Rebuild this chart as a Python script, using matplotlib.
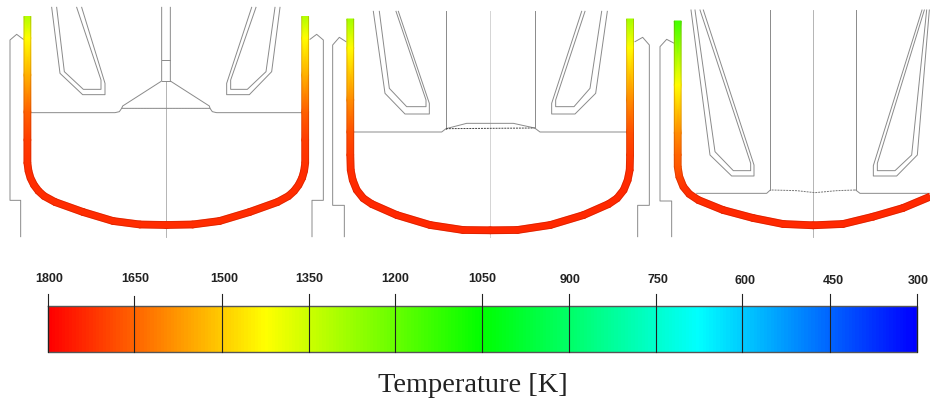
import numpy as np
import matplotlib
matplotlib.use("Agg")
import matplotlib.pyplot as plt
from matplotlib.colors import LinearSegmentedColormap, Normalize

# ---------- colour bar data ----------
tick_labels = ["1800", "1650", "1500", "1350", "1200", "1050", "900", "750", "600", "450", "300"]
tick_values = [1800, 1650, 1500, 1350, 1200, 1050, 900, 750, 600, 450, 300]
tick_px = [47.7, 134.3, 222, 308.7, 395, 481.7, 569.3, 656, 742.3, 830, 916.7]
tick_top = [293.5, 296, 293.5, 293.5, 293.5, 293.5, 293.5, 293.5, 293.5, 293.5, 293.5]
label_x = [48.7, 135, 224, 309.5, 395, 482.3, 570, 657.5, 745, 833, 918]
label_y = [279, 279, 279, 279, 279, 279, 280, 280, 281, 281, 281]

# ---------- wall centre lines (pixel positions) and temperatures ----------
w1_x = [27.4, 27.4, 27.4, 27.4, 27.4, 27.4, 28.5, 30.5, 34, 38.5, 44, 55, 83, 113, 140, 166.3]
w1_y = [16.5, 38, 75, 112, 140, 163, 171, 178, 185, 191, 196, 202, 212, 221, 224.5, 225]
w1_t = [1310, 1425, 1541, 1659, 1710, 1725, 1730, 1735, 1735, 1735, 1735, 1735, 1735, 1735, 1735, 1735]
w1_axis = 166.3

w2_x = [350.3, 350.3, 350.3, 350.3, 350.3, 350.7, 352.7, 356.7, 363.3, 371.7, 396.7, 430, 463, 490.2]
w2_y = [19, 48, 100, 132, 155, 170, 180, 190, 198.3, 204, 215, 225, 230, 230.3]
w2_t = [1290, 1425, 1590, 1680, 1715, 1730, 1735, 1740, 1740, 1740, 1740, 1740, 1740, 1740]
w2_axis = 490.2

w3_x = [677.7, 677.7, 677.7, 677.7, 677.7, 679.3, 683.3, 689.3, 698.3, 723, 753, 783, 813, 843, 873, 903, 930]
w3_y = [21, 85, 133, 155, 166.7, 176.7, 186.7, 194, 200, 210, 218, 224, 225.3, 224, 216.7, 208, 196.7]
w3_t = [1144, 1425, 1590, 1650, 1670, 1700, 1720, 1730, 1735, 1740, 1740, 1740, 1740, 1740, 1740, 1740, 1740]

# ---------- outlines, in 3x crop coordinates of each panel ----------
p1_off = 0
p1_lines = [
    [(62, 710), (62, 601), (30, 601), (30, 120), (50, 103), (70, 118)],
    [(936, 710), (936, 601), (970, 601), (970, 120), (950, 103), (930, 118)],
    [(155, 22), (180, 220), (248, 284), (315, 284), (315, 250), (245, 22)],
    [(170, 22), (193, 215), (250, 268), (303, 268), (303, 240), (230, 22)],
    [(840, 22), (815, 215), (748, 284), (680, 284), (680, 250), (755, 22)],
    [(825, 22), (798, 215), (742, 268), (692, 268), (692, 240), (768, 22)],
    [(485, 22), (485, 243), (368, 318), (365, 325), (630, 325), (628, 318), (511, 243), (511, 22)],
    [(485, 180), (511, 180)],
    [(485, 243), (511, 243)],
    [(92, 338), (345, 338), (358, 335), (365, 325)],
    [(906, 338), (650, 338), (637, 335), (630, 325)],
]
p1_center = [(497, 243), (497, 710)]
p1_dash = [(368, 323), (628, 323)]

p2_off = 330
p2_lines = [
    [(43, 710), (43, 616), (8, 616), (8, 135), (28, 112), (48, 125)],
    [(923, 710), (923, 616), (958, 616), (958, 135), (938, 112), (915, 125)],
    [(130, 34), (165, 280), (225, 342), (298, 342), (298, 310), (205, 34)],
    [(148, 34), (178, 265), (230, 320), (288, 320), (288, 300), (198, 34)],
    [(832, 34), (797, 280), (735, 342), (665, 342), (665, 310), (755, 34)],
    [(815, 34), (780, 265), (732, 320), (677, 320), (677, 300), (765, 34)],
    [(348, 34), (348, 386)],
    [(614, 34), (614, 384)],
    [(72, 396), (335, 396), (348, 386), (410, 370), (550, 370), (614, 384), (630, 396), (890, 396)],
]
p2_center = [(481, 34), (481, 710)]
p2_dash = [(348, 386), (614, 384)]

p3_off = 640
p3_lines = [
    [(95, 710), (95, 603), (60, 603), (60, 140), (80, 118), (103, 130)],
    [(153, 30), (210, 465), (275, 528), (342, 528), (342, 495), (190, 30)],
    [(165, 30), (225, 455), (280, 512), (332, 512), (332, 490), (180, 30)],
    [(868, 30), (832, 465), (770, 528), (700, 528), (700, 497), (846, 30)],
    [(860, 30), (815, 465), (765, 512), (712, 512), (712, 490), (853, 30)],
    [(391, 30), (391, 570)],
    [(647, 30), (647, 570)],
    [(170, 580), (380, 580), (391, 570)],
    [(870, 580), (660, 580), (647, 570)],
]
p3_center = [(520, 30), (520, 710)]
p3_dash = [(395, 570), (470, 572), (525, 578), (590, 572), (647, 570)]

WALL = 6.8
GREY = "#8a8a8a"
cmap = LinearSegmentedColormap.from_list(
    "rainbow5", ["#0000ff", "#00ffff", "#00ff00", "#ffff00", "#ff0000"])
norm = Normalize(300, 1800)

fig = plt.figure(figsize=(9.30, 4.01), dpi=100)
ax = fig.add_axes([0, 0, 1, 1])
ax.axis("off")


def draw_wall(x, y, t):
    x, y, t = map(np.asarray, (x, y, t))
    dx, dy = np.gradient(x), np.gradient(y)
    n = np.hypot(dx, dy)
    nx, ny = -dy / n, dx / n
    X = np.vstack([x - nx * WALL / 2, x + nx * WALL / 2])
    Y = np.vstack([y - ny * WALL / 2, y + ny * WALL / 2])
    T = np.vstack([t, t])
    ax.pcolormesh(X, Y, T, cmap=cmap, norm=norm, shading="gouraud", zorder=3)
    for i in (0, 1):
        ax.plot(X[i], Y[i], color="#7a1000", lw=0.5, alpha=0.3, zorder=4)


def mirror(x, y, t, axis):
    xs = list(x) + [2 * axis - v for v in reversed(x[:-1])]
    return xs, list(y) + list(reversed(y[:-1])), list(t) + list(reversed(t[:-1]))


def draw_lines(lines, off, **kw):
    for ln in lines:
        pts = np.array(ln, float) / 3
        ax.plot(pts[:, 0] + off, pts[:, 1], solid_joinstyle="round", **kw)


for lines, off in ((p1_lines, p1_off), (p2_lines, p2_off), (p3_lines, p3_off)):
    draw_lines(lines, off, color=GREY, lw=0.7, zorder=2)

draw_lines([p1_center], p1_off, color="#a8a8a8", lw=0.6, zorder=1)
draw_lines([p2_center], p2_off, color="#d4d4d4", lw=0.7, zorder=1)
draw_lines([p3_center], p3_off, color="#a8a8a8", lw=0.6, zorder=1)

for pts, off, col in ((p1_dash, p1_off, "#999999"), (p2_dash, p2_off, "#444444"), (p3_dash, p3_off, "#777777")):
    arr = np.array(pts, float) / 3
    ax.plot(arr[:, 0] + off, arr[:, 1], color=col, lw=0.7, ls=(0, (2, 1)), zorder=2)

draw_wall(*mirror(w1_x, w1_y, w1_t, w1_axis))
draw_wall(*mirror(w2_x, w2_y, w2_t, w2_axis))
draw_wall(w3_x, w3_y, w3_t)

# ---------- colour bar ----------
bar_edges = np.linspace(tick_px[0], tick_px[-1], 871)
ramp = np.linspace(tick_values[0], tick_values[-1], 870)[None, :]
ax.pcolormesh(bar_edges, [305.5, 351.5], ramp, cmap=cmap, norm=norm,
              shading="flat", antialiased=False, linewidth=0, zorder=3)
ax.plot([tick_px[0], tick_px[-1], tick_px[-1], tick_px[0], tick_px[0]],
        [305.5, 305.5, 351.5, 351.5, 305.5], color="#555555", lw=1.0, zorder=4)
for xp, top in zip(tick_px, tick_top):
    ax.plot([xp, xp], [top, 351.5], color="#222222", lw=0.8, zorder=5)
for lab, xp, yp in zip(tick_labels, label_x, label_y):
    ax.text(xp, yp, lab, ha="center", va="center", family="Liberation Sans",
            fontweight="bold", fontsize=9, color="#222222")

ax.text(473, 385.5, "Temperature [K]", ha="center", va="center",
        family="Liberation Serif", fontsize=20.4, color="#222222")

ax.set_xlim(0, 930)
ax.set_ylim(401, 0)
fig.savefig("out.png", dpi=100, facecolor="white")
